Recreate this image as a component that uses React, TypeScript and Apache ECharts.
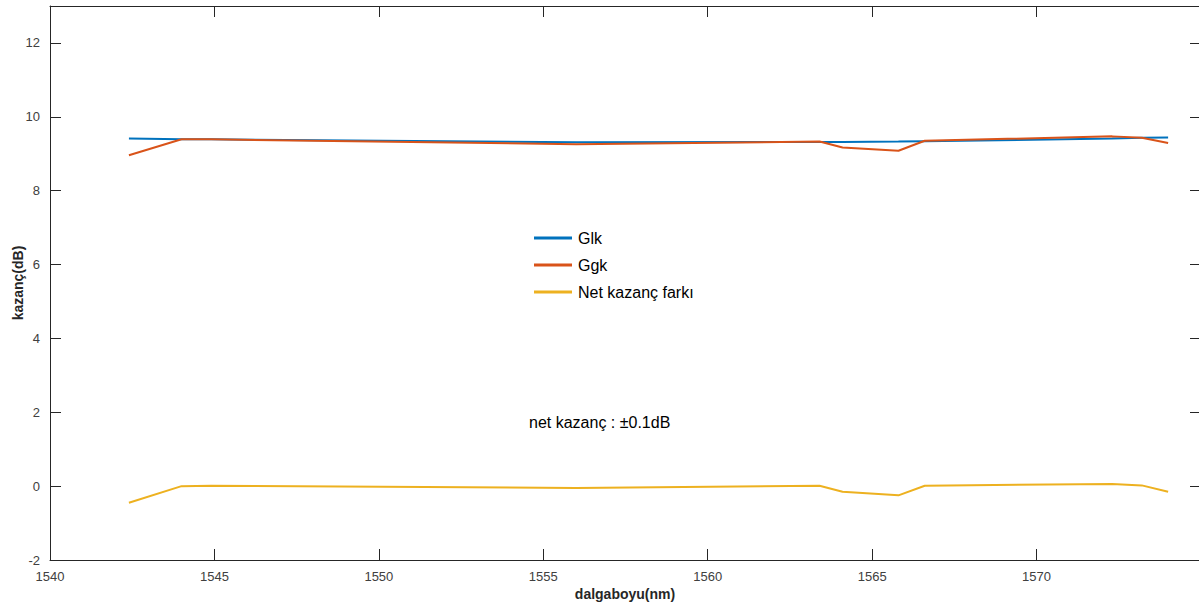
import React, { useEffect, useRef } from "react";
import * as echarts from "echarts";

const wavelengths = [1542.4, 1544.0, 1544.9, 1556.0, 1563.4, 1564.1, 1565.8, 1566.6, 1572.3, 1573.2, 1574.0];
const glk = [9.41, 9.39, 9.39, 9.31, 9.32, 9.32, 9.33, 9.34, 9.41, 9.43, 9.44];
const ggk = [8.96, 9.39, 9.39, 9.26, 9.33, 9.17, 9.08, 9.35, 9.47, 9.43, 9.29];
const netFark = [-0.45, 0.0, 0.01, -0.05, 0.01, -0.15, -0.25, 0.01, 0.06, 0.02, -0.15];
const seriesNames = ["Glk", "Ggk", "Net kazanç farkı"];
const colors = ["#0072BD", "#D95319", "#EDB120"];
const xTicks = [1540, 1545, 1550, 1555, 1560, 1565, 1570, 1575];
const yTicks = [-2, 0, 2, 4, 6, 8, 10, 12];
const xTitle = "dalgaboyu(nm)";
const yTitle = "kazanç(dB)";
const note = "net kazanç : ±0.1dB";

const FONT = "'Liberation Sans', Arial, Helvetica, sans-serif";

export default function App() {
  const ref = useRef<HTMLDivElement>(null);
  useEffect(() => {
    if (!ref.current) return;
    const chart = echarts.init(ref.current, null, { renderer: "svg" });
    const seriesData = [glk, ggk, netFark];
    const axisLine = { show: true, onZero: false, lineStyle: { color: "#262626", width: 1 } };
    const tick = { show: true, inside: true, length: 11, lineStyle: { color: "#262626", width: 1 } };
    chart.setOption({
      animation: false,
      textStyle: { fontFamily: FONT },
      grid: { left: 50, top: 6, width: 1151, height: 554, containLabel: false, outerBoundsMode: "none" },
      legend: {
        orient: "vertical",
        left: 529,
        top: 223,
        itemWidth: 38,
        itemHeight: 3,
        itemGap: 7,
        icon: "rect",
        data: seriesNames,
        textStyle: { fontSize: 16, color: "#000", fontFamily: FONT, lineHeight: 20, padding: [0, 0, 0, 1] },
      },
      xAxis: [
        {
          type: "value",
          min: 1540,
          max: 1575,
          interval: 5,
          position: "bottom",
          axisLine,
          axisTick: tick,
          splitLine: { show: false },
          axisLabel: {
            fontSize: 13,
            color: "#404040",
            margin: 10,
            fontFamily: FONT,
            formatter: (v: number) => (xTicks.includes(v) && v !== 1575 ? String(v) : ""),
          },
        },
        {
          type: "value",
          min: 1540,
          max: 1575,
          interval: 5,
          position: "top",
          axisLine,
          axisTick: tick,
          axisLabel: { show: false },
          splitLine: { show: false },
        },
      ],
      yAxis: [
        {
          type: "value",
          min: -2,
          max: 13,
          interval: 2,
          position: "left",
          axisLine,
          axisTick: tick,
          splitLine: { show: false },
          axisLabel: {
            fontSize: 13,
            color: "#404040",
            margin: 10,
            fontFamily: FONT,
            formatter: (v: number) => (yTicks.includes(v) ? String(v) : ""),
          },
        },
        {
          type: "value",
          min: -2,
          max: 13,
          interval: 2,
          position: "right",
          axisLine,
          axisTick: tick,
          axisLabel: { show: false },
          splitLine: { show: false },
        },
      ],
      graphic: [
        {
          type: "text",
          left: 529,
          top: 414,
          style: { text: note, fontSize: 16, fill: "#000", fontFamily: FONT },
        },
        {
          type: "text",
          x: 625,
          y: 594,
          style: {
            text: xTitle,
            fontSize: 14,
            fontWeight: "bold",
            fill: "#262626",
            fontFamily: FONT,
            align: "center",
            verticalAlign: "middle",
          },
        },
        {
          type: "text",
          x: 18,
          y: 283,
          rotation: Math.PI / 2,
          style: {
            text: yTitle,
            fontSize: 14,
            fontWeight: "bold",
            fill: "#262626",
            fontFamily: FONT,
            align: "center",
            verticalAlign: "middle",
          },
        },
      ],
      series: seriesNames.map((name, i) => ({
        name,
        type: "line",
        xAxisIndex: 0,
        yAxisIndex: 0,
        showSymbol: false,
        symbol: "none",
        color: colors[i],
        lineStyle: { color: colors[i], width: 2 },
        data: wavelengths.map((w, j) => [w, seriesData[i][j]]),
      })),
    });
    return () => chart.dispose();
  }, []);
  return <div ref={ref} style={{ position: "absolute", left: 0, top: 0, width: 1199, height: 606, background: "#fff" }} />;
}
